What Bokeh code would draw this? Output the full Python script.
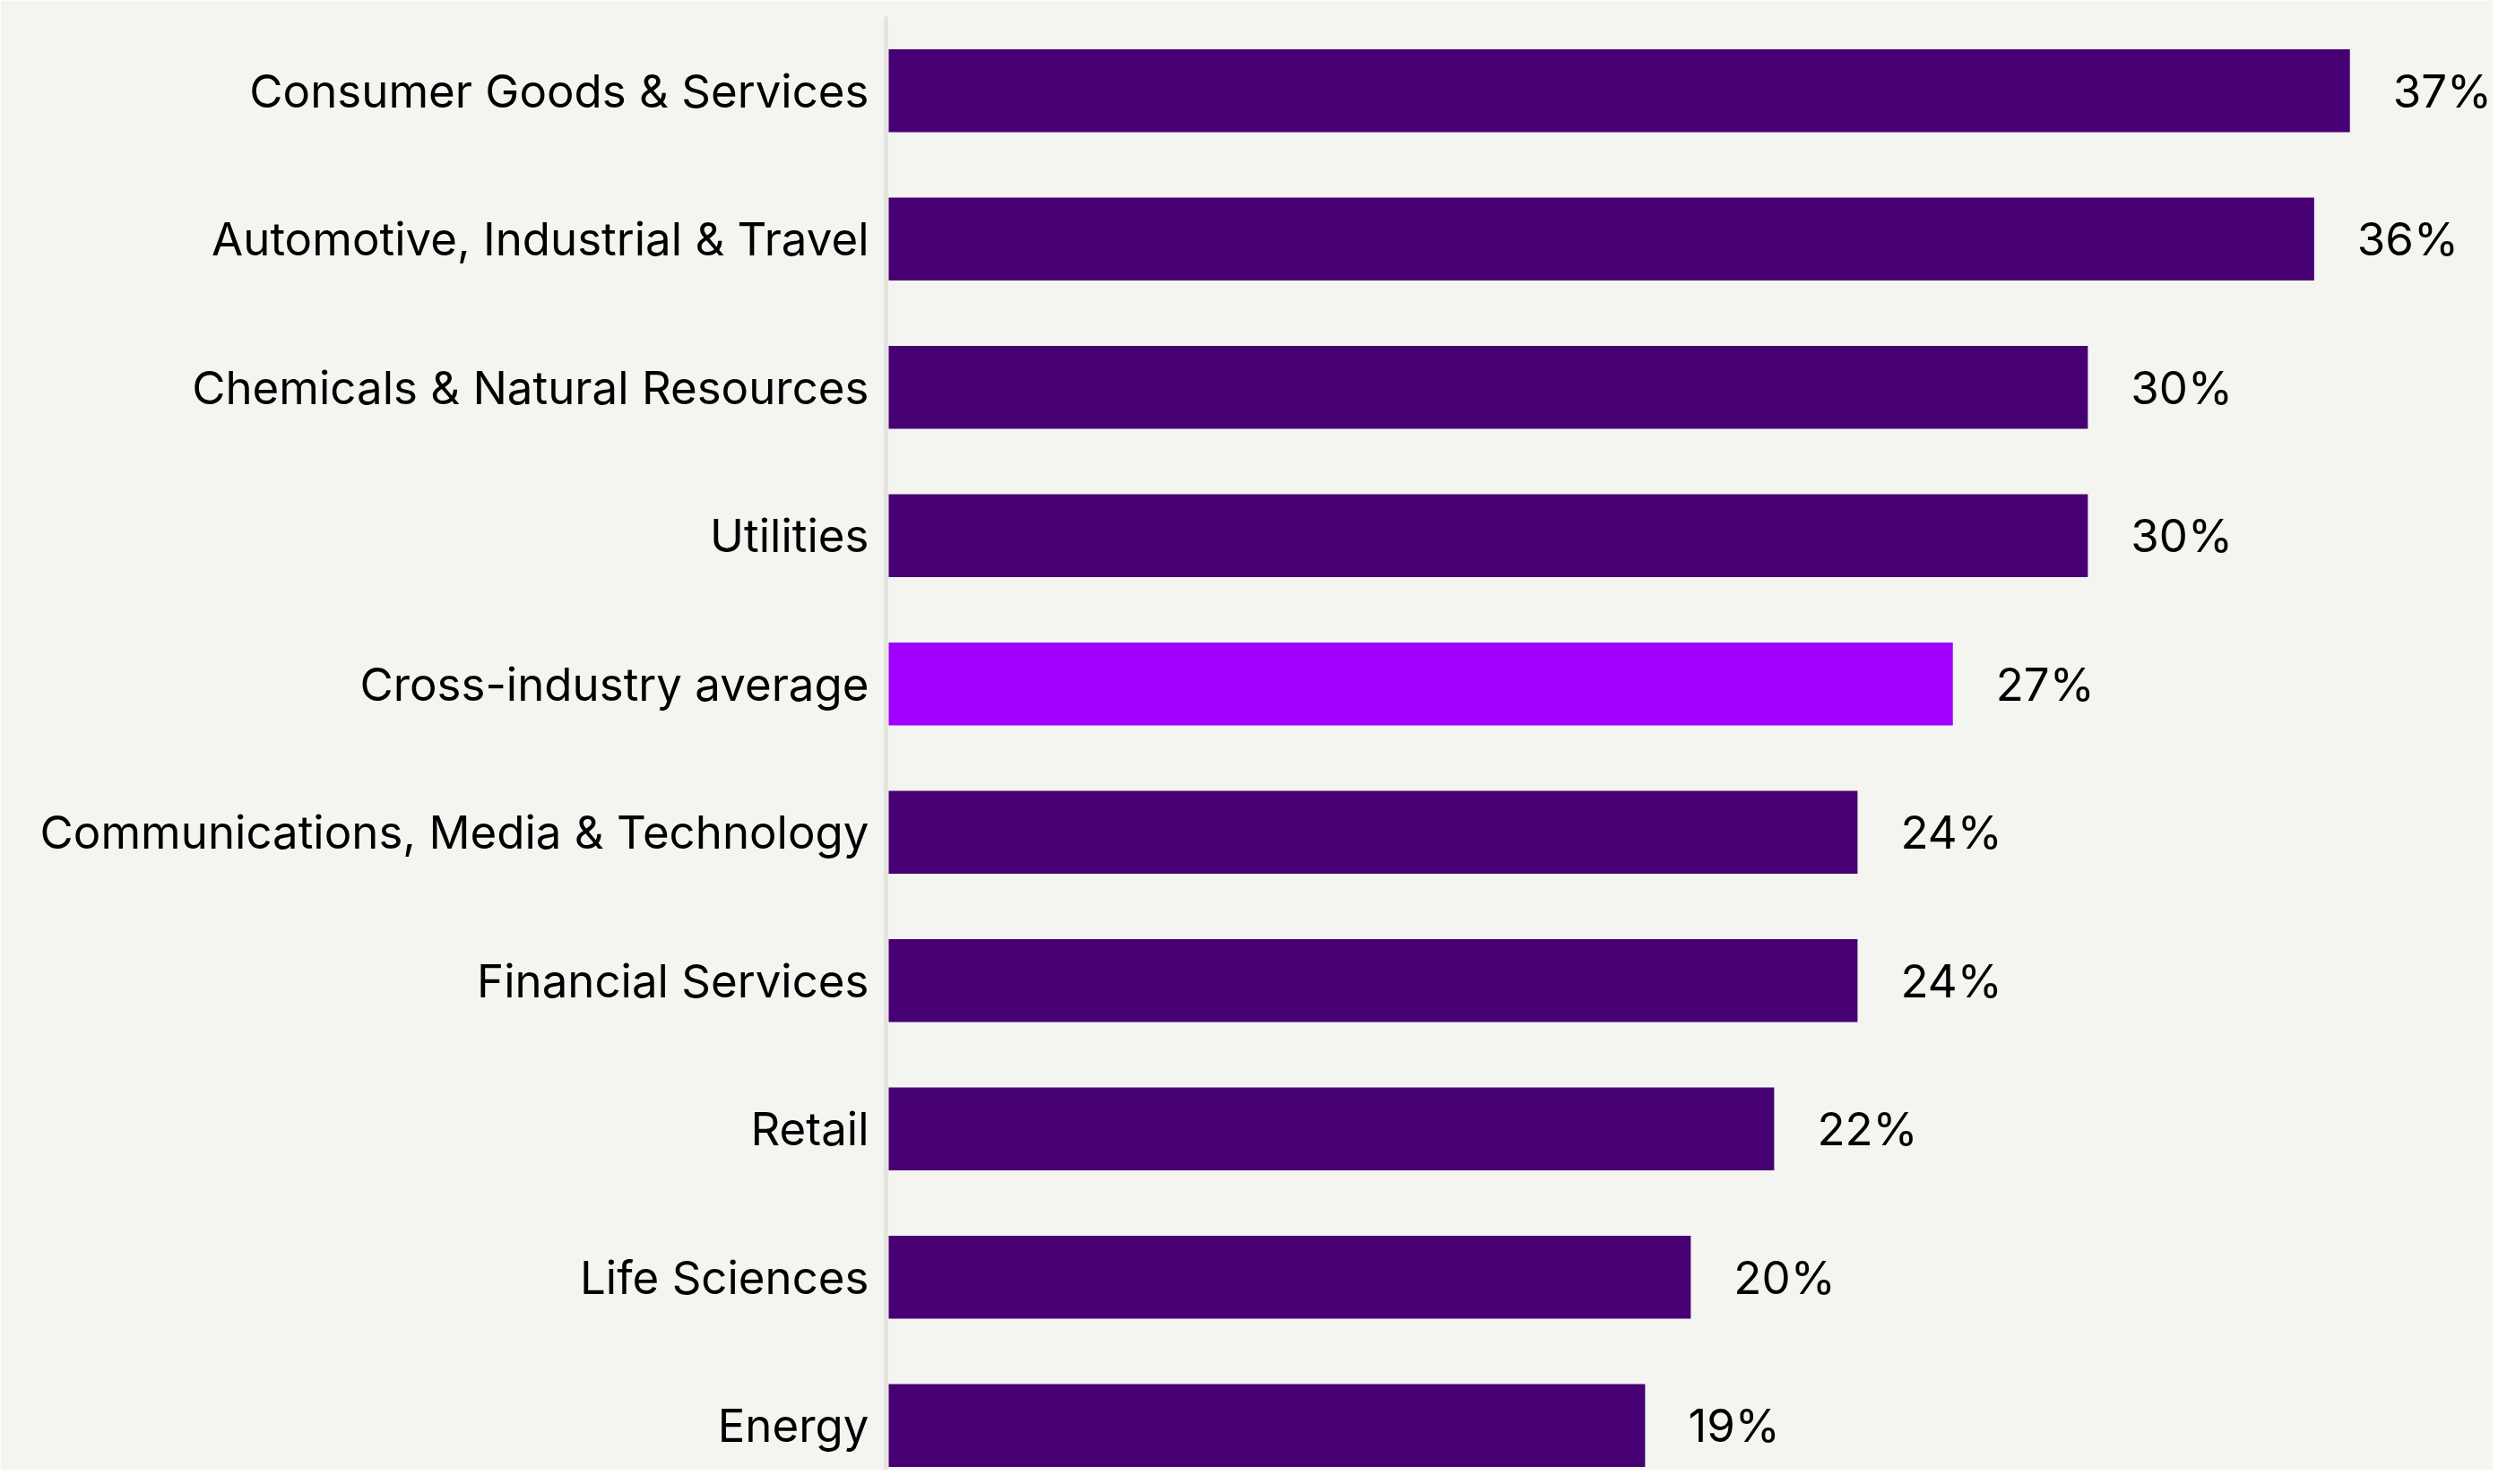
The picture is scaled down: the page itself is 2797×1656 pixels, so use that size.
from bokeh.plotting import figure
from bokeh.models import Range1d, FixedTicker, ColumnDataSource
from bokeh.core.properties import value
from bokeh.embed import file_html
from bokeh.resources import INLINE

# ---- data ----
categories = [
    "Consumer Goods & Services",
    "Automotive, Industrial & Travel",
    "Chemicals & Natural Resources",
    "Utilities",
    "Cross-industry average",
    "Communications, Media & Technology",
    "Financial Services",
    "Retail",
    "Life Sciences",
    "Energy",
]
values = [36.8, 35.9, 30.2, 30.2, 26.8, 24.4, 24.4, 22.3, 20.2, 19.05]
value_labels = ["37%", "36%", "30%", "30%", "27%", "24%", "24%", "22%", "20%", "19%"]
highlight = "Cross-industry average"

# ---- style ----
BG = "#F4F4F0"
DARK = "#460073"
BRIGHT = "#A100FF"
FONT = "Inter"
FONT_SIZE = "51px"

W, H = 2781, 1640
LEFT, TOP = 988, 18
px_per_unit = 44.3
row_px = 165.5

frame_w = W - LEFT
frame_h = H - TOP
x_start = -3 / px_per_unit
x_end = x_start + frame_w / px_per_unit
y_top = -0.5
y_bottom = y_top + frame_h / row_px

idx = list(range(len(categories)))
colors = [BRIGHT if c == highlight else DARK for c in categories]
src = ColumnDataSource(dict(y=idx, v=values, lab=value_labels, color=colors))

p = figure(width=W, height=H, output_backend="svg", toolbar_location=None,
           x_range=Range1d(x_start, x_end), y_range=Range1d(y_bottom, y_top),
           x_axis_location=None, min_border_left=LEFT, min_border_top=TOP,
           min_border_right=0, min_border_bottom=0)
p.background_fill_color = BG
p.border_fill_color = BG
p.outline_line_color = None
p.grid.visible = False

p.hbar(y="y", right="v", left=0, height=0.56, color="color", line_color=None, source=src)
p.text(x="v", y="y", text="lab", source=src, x_offset=48, y_offset=0, text_align="left",
       text_baseline="middle", text_font=value(FONT), text_font_size=FONT_SIZE,
       text_color="#000000")

ax = p.yaxis[0]
ax.ticker = FixedTicker(ticks=idx)
ax.major_label_overrides = {i: c for i, c in zip(idx, categories)}
ax.major_tick_line_color = None
ax.minor_tick_line_color = None
ax.major_tick_out = 0
ax.major_tick_in = 0
ax.major_label_standoff = 19
ax.major_label_text_font = FONT
ax.major_label_text_font_size = FONT_SIZE
ax.major_label_text_color = "#000000"
ax.axis_line_color = "#E4E4DE"
ax.axis_line_width = 5

open("out.html", "w").write(file_html(p, INLINE))
